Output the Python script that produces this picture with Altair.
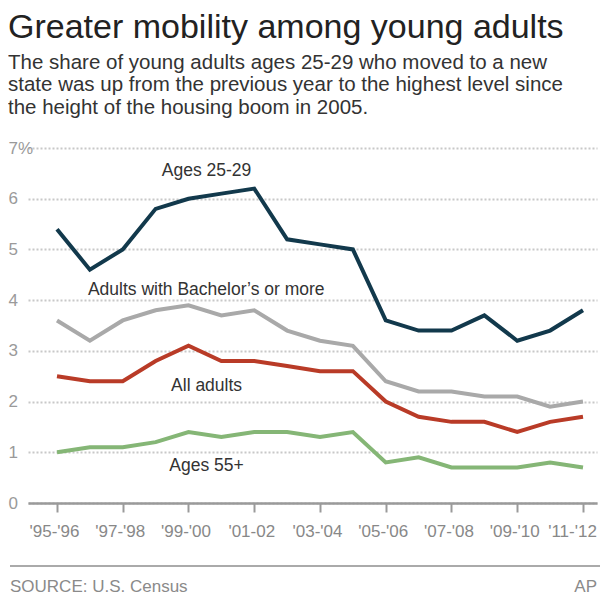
import json
import altair as alt
import pandas as pd

periods = ["'95-'96", "'96-'97", "'97-'98", "'98-'99", "'99-'00", "'00-'01",
           "'01-02", "'02-'03", "'03-'04", "'04-'05", "'05-'06", "'06-'07",
           "'07-'08", "'08-'09", "'09-'10", "'10-'11", "'11-'12"]

series_names = ["Ages 25-29", "Adults with Bachelor’s or more", "All adults", "Ages 55+"]
ages_25_29 = [5.4, 4.6, 5.0, 5.8, 6.0, 6.1, 6.2, 5.2, 5.1, 5.0, 3.6, 3.4, 3.4, 3.7, 3.2, 3.4, 3.8]
bachelors = [3.6, 3.2, 3.6, 3.8, 3.9, 3.7, 3.8, 3.4, 3.2, 3.1, 2.4, 2.2, 2.2, 2.1, 2.1, 1.9, 2.0]
all_adults = [2.5, 2.4, 2.4, 2.8, 3.1, 2.8, 2.8, 2.7, 2.6, 2.6, 2.0, 1.7, 1.6, 1.6, 1.4, 1.6, 1.7]
ages_55 = [1.0, 1.1, 1.1, 1.2, 1.4, 1.3, 1.4, 1.4, 1.3, 1.4, 0.8, 0.9, 0.7, 0.7, 0.7, 0.8, 0.7]
series_colors = ["#12394c", "#a9a9a9", "#b93b27", "#85b676"]

label_x = [4.55, 4.54, 4.55, 4.55]
label_y = [6.54, 4.2, 2.3, 0.73]

y_ticks = [0, 1, 2, 3, 4, 5, 6, 7]
x_ticks = [0, 2, 4, 6, 8, 10, 12, 14, 16]

title_text = "Greater mobility among young adults"
subtitle_lines = ["The share of young adults ages 25-29 who moved to a new",
                  "state was up from the previous year to the highest level since",
                  "the height of the housing boom in 2005."]
footer_left = "SOURCE: U.S. Census"
footer_right = "AP"

rows = []
for name, vals in zip(series_names, [ages_25_29, bachelors, all_adults, ages_55]):
    for i, v in enumerate(vals):
        rows.append({"idx": i, "value": v, "series": name})
df = pd.DataFrame(rows)
labels_df = pd.DataFrame({"idx": label_x, "value": label_y, "name": series_names})

label_array = "[" + ",".join(json.dumps(p) for p in periods) + "]"

x_scale = alt.Scale(domain=[-0.882, 16.426], nice=False, zero=False)
y_scale = alt.Scale(domain=[0, 7], nice=False, zero=True)

x_axis = alt.Axis(values=x_ticks, labelExpr=label_array + "[datum.value]",
                  tickSize=9, tickColor="#9a9a9a", tickWidth=2,
                  domainColor="#9a9a9a", domainWidth=2.5,
                  labelFontSize=17, labelColor="#888888", labelPadding=11,
                  labelOverlap=False, grid=False, title=None,
                  labelOffset=alt.condition("datum.value == 16", alt.value(-11), alt.value(-3)))
y_axis = alt.Axis(values=y_ticks, labelExpr="datum.value == 7 ? '7%' : datum.label",
                  labelAlign="left", labelPadding=20, ticks=False, domain=False,
                  grid=True, gridDash=[2, 2], gridColor="#c8c8c8", gridWidth=2,
                  labelColor="#9a9a9a", labelFontSize=17, title=None)

lines = alt.Chart(df).mark_line(strokeWidth=4).encode(
    x=alt.X("idx:Q", scale=x_scale, axis=x_axis),
    y=alt.Y("value:Q", scale=y_scale, axis=y_axis),
    color=alt.Color("series:N", scale=alt.Scale(domain=series_names, range=series_colors), legend=None),
    order=alt.Order("idx:Q"),
)

texts = alt.Chart(labels_df).mark_text(fontSize=17.5, color="#333333", align="center", baseline="middle").encode(
    x=alt.X("idx:Q", scale=x_scale, axis=x_axis),
    y=alt.Y("value:Q", scale=y_scale, axis=y_axis),
    text="name:N",
)

footer_df = pd.DataFrame({"left": [footer_left], "right": [footer_right]})
footer_rule = alt.Chart(footer_df).mark_rule(color="#aaaaaa", strokeWidth=2).encode(
    x=alt.value(-18), x2=alt.value(572), y=alt.value(418))
footer_l = alt.Chart(footer_df).mark_text(align="left", baseline="alphabetic", fontSize=17, color="#8a8a8a").encode(
    x=alt.value(-18), y=alt.value(444), text="left:N")
footer_r = alt.Chart(footer_df).mark_text(align="right", baseline="alphabetic", fontSize=17, color="#8a8a8a").encode(
    x=alt.value(569), y=alt.value(444), text="right:N")

chart = alt.layer(lines, texts, footer_rule, footer_l, footer_r).properties(
    width=569, height=355,
    autosize=alt.AutoSizeParams(type="none"),
    padding={"left": 20, "top": 140, "right": 4, "bottom": 94},
    title=alt.TitleParams(text=title_text, subtitle=subtitle_lines, anchor="start",
                          fontSize=34, fontWeight="normal", color="#222222", font="Liberation Sans",
                          subtitleFontSize=20.5, subtitleColor="#333333", subtitleFont="Liberation Sans",
                          subtitleLineHeight=22.5, subtitlePadding=8, offset=21),
).configure(font="Liberation Sans").configure_view(stroke=None)

chart.save("out.html", embed_options={"renderer": "svg", "actions": False})
